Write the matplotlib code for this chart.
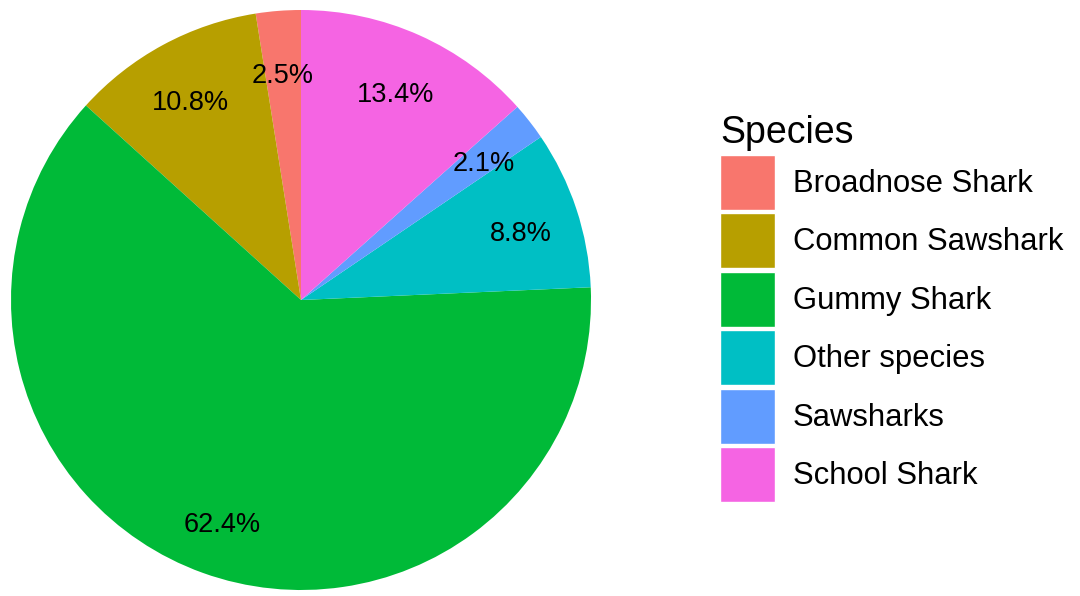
import matplotlib
matplotlib.use("Agg")
import matplotlib.pyplot as plt

plt.rcParams['font.family'] = ['Liberation Sans', 'DejaVu Sans']

# catch share by species (percent)
species = ['Broadnose Shark', 'Common Sawshark', 'Gummy Shark',
           'Other species', 'Sawsharks', 'School Shark']
share = [2.5, 10.8, 62.4, 8.8, 2.1, 13.4]
colours = ['#F8766D', '#B79F00', '#00BA38', '#00BFC4', '#619CFF', '#F564E3']

fig = plt.figure(figsize=(10.8, 5.96), dpi=100)
ax = fig.add_axes([11 / 1080, 6 / 596, 580 / 1080, 580 / 596])

wedges, texts, autotexts = ax.pie(
    share, colors=colours, startangle=90, counterclock=True,
    autopct='%1.1f%%', pctdistance=0.8,
    textprops={'fontsize': 19.5, 'color': 'black'},
    wedgeprops={'linewidth': 0})
ax.set_xlim(-1, 1)
ax.set_ylim(-1, 1)
# nudge the percent labels a little below the slice midline
for t in autotexts:
    x, y = t.get_position()
    t.set_position((x, y - 0.024))

fs = 22.3
em = fs * 100 / 72
key = 55 / em
# legend patch height is fs*(0.65*hh + 0.245), solve for a square key
hh = (key - 0.245) / 0.65
leg = fig.legend(wedges, species, title='Species', loc='upper left',
                 bbox_to_anchor=(720 / 1080, 1 - 115 / 596), frameon=False,
                 fontsize=fs, title_fontsize=27,
                 handlelength=key, handleheight=hh,
                 handletextpad=18 / em, labelspacing=3.5 / em,
                 borderpad=0, borderaxespad=0, alignment='left')
for h in leg.legend_handles:
    h.set_linewidth(1)
    h.set_edgecolor('white')

fig.savefig('out.png', dpi=100)
